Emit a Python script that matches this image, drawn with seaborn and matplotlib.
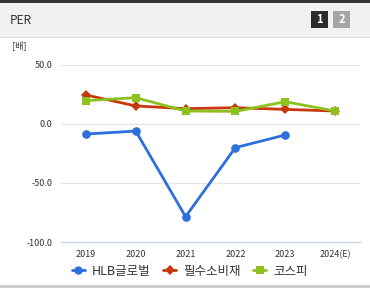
import matplotlib
matplotlib.use("Agg")
import matplotlib.pyplot as plt
import seaborn as sns
import pandas as pd
import numpy as np
from matplotlib.patches import Rectangle
from matplotlib.lines import Line2D

years = ["2019", "2020", "2021", "2022", "2023", "2024(E)"]
hlb = [-8.5, -6.0, -78.5, -20.0, -9.3, np.nan]
staples = [24.6, 15.3, 13.0, 13.8, 12.4, 11.0]
kospi = [19.8, 22.3, 11.0, 10.7, 18.9, 11.0]
series_names = ["HLB글로벌", "필수소비재", "코스피"]
yticks = [50.0, 0.0, -50.0, -100.0]

colors = {"HLB글로벌": "#2d6fdc", "필수소비재": "#c9360c", "코스피": "#8cc21e"}
markers = {"HLB글로벌": "o", "필수소비재": "D", "코스피": "s"}

sns.set_style("white")
plt.rcParams['font.family'] = ['Noto Sans CJK KR', 'DejaVu Sans']

rows = []
for name, vals in zip(series_names, [hlb, staples, kospi]):
    for i, (y, v) in enumerate(zip(years, vals)):
        rows.append({"x": i, "year": y, "value": v, "series": name})
df = pd.DataFrame(rows)

W, H = 370, 289
fig = plt.figure(figsize=(W / 100, H / 100), dpi=100)

# header
fig.patches.append(Rectangle((0, 1 - 37 / H), 1, 35 / H, transform=fig.transFigure,
                             facecolor="#f1f1f1", edgecolor="none", zorder=0))
fig.patches.append(Rectangle((0, 1 - 3 / H), 1, 3 / H, transform=fig.transFigure,
                             facecolor="#333333", edgecolor="none", zorder=1))
fig.patches.append(Rectangle((0, 1 - 38 / H), 1, 1 / H, transform=fig.transFigure,
                             facecolor="#dddddd", edgecolor="none", zorder=1))
fig.text(10 / W, 1 - 20 / H, "PER", fontsize=8.5, color="#333333", va="center", ha="left")
for x0, fc, lab in [(311, "#2b2b2b", "1"), (333, "#a5a5a5", "2")]:
    fig.patches.append(Rectangle((x0 / W, 1 - 28 / H), 17 / W, 17 / H, transform=fig.transFigure,
                                 facecolor=fc, edgecolor="none", zorder=2))
    fig.text((x0 + 8.5) / W, 1 - 19.5 / H, lab, fontsize=8, fontweight="bold", color="white",
             ha="center", va="center", zorder=3)
# bottom line
fig.patches.append(Rectangle((0, 1 - 288 / H), 1, 3 / H, transform=fig.transFigure,
                             facecolor="#cccccc", edgecolor="none", zorder=1))

fig.text(12 / W, 1 - 45 / H, "[배]", fontsize=6.5, color="#333333", va="center", ha="left")

ax = fig.add_axes([61 / W, 1 - 242 / H, 299 / W, 177 / H])
for name in series_names:
    sub = df[df["series"] == name].dropna()
    sns.lineplot(data=sub, x="x", y="value", ax=ax, color=colors[name], marker=markers[name],
                 markersize=6.2 if name != "필수소비재" else 5, markeredgewidth=0,
                 linewidth=2, legend=False, zorder=3 if name == "HLB글로벌" else 2)

ax.set_xlim(-0.5, 5.5)
ax.set_ylim(-100, 50)
ax.set_yticks(yticks)
ax.set_yticklabels([f"{v:.1f}" for v in yticks], fontsize=6.5, color="#333333")
ax.set_xticks(range(len(years)))
ax.set_xticklabels(years, fontsize=6.5, color="#333333")
ax.set_xticks(np.arange(-0.5, 6, 1), minor=True)
ax.tick_params(axis="x", which="major", length=0, pad=6)
ax.tick_params(axis="x", which="minor", length=5, color="#ccd6eb", width=1)
ax.tick_params(axis="y", length=0, pad=6)
ax.set_xlabel("")
ax.set_ylabel("")
for v in [50, 0, -50]:
    ax.axhline(v, color="#e6e6e6", linewidth=1, zorder=0)
for s in ["top", "right", "left"]:
    ax.spines[s].set_visible(False)
ax.spines["bottom"].set_color("#ccd6eb")
ax.spines["bottom"].set_linewidth(1)

handles = [Line2D([0], [0], color=colors[n], marker=markers[n], linewidth=2,
                  markersize=6 if n != "필수소비재" else 5, markeredgewidth=0) for n in series_names]
fig.legend(handles, series_names, loc="center", bbox_to_anchor=(190 / W, 1 - 271 / H),
           ncol=3, frameon=False, fontsize=9, handlelength=1.0, handletextpad=0.6,
           columnspacing=1.0, labelcolor="#333333")

fig.savefig("out.png", dpi=100)
